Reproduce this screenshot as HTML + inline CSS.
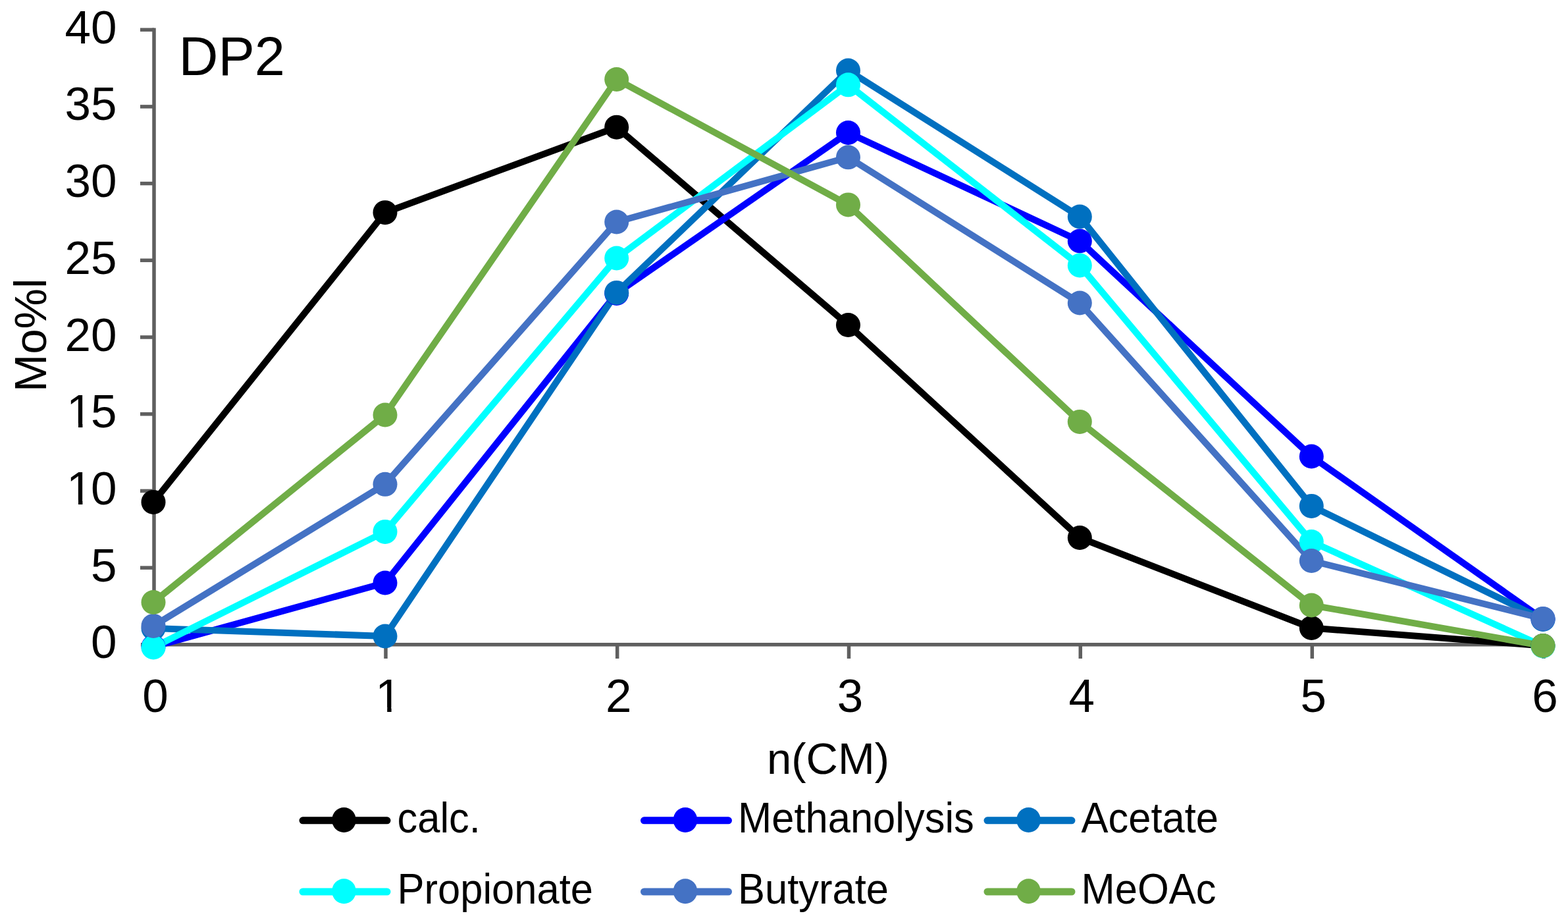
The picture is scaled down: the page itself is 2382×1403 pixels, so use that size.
<!DOCTYPE html><html><head><meta charset="utf-8"><title>DP2</title><style>html,body{margin:0;padding:0;background:#fff;overflow:hidden}svg{display:block}text{font-family:"Liberation Sans",Arial,sans-serif;fill:#000}</style></head><body>
<svg width="2382" height="1403" viewBox="0 0 2382 1403">
<rect width="2382" height="1403" fill="#fff"/>
<g stroke="#5f5f5f" stroke-width="5.5" fill="none">
<line x1="234" y1="42.4" x2="234" y2="978.8"/>
<line x1="231.25" y1="978.8" x2="2344" y2="978.8"/>
<line x1="214" y1="978.8" x2="234" y2="978.8"/>
<line x1="213" y1="862.1" x2="234" y2="862.1"/>
<line x1="213" y1="745.4" x2="234" y2="745.4"/>
<line x1="213" y1="628.7" x2="234" y2="628.7"/>
<line x1="213" y1="512.0" x2="234" y2="512.0"/>
<line x1="213" y1="395.3" x2="234" y2="395.3"/>
<line x1="213" y1="278.6" x2="234" y2="278.6"/>
<line x1="213" y1="161.9" x2="234" y2="161.9"/>
<line x1="213" y1="45.2" x2="234" y2="45.2"/>
<line x1="234.0" y1="978.8" x2="234.0" y2="1000"/>
<line x1="586.0" y1="978.8" x2="586.0" y2="1000"/>
<line x1="937.7" y1="978.8" x2="937.7" y2="1000"/>
<line x1="1289.5" y1="978.8" x2="1289.5" y2="1000"/>
<line x1="1641.3" y1="978.8" x2="1641.3" y2="1000"/>
<line x1="1993.3" y1="978.8" x2="1993.3" y2="1000"/>
<line x1="2345.0" y1="978.8" x2="2345.0" y2="1000"/>
</g>
<defs><clipPath id="c10"><rect x="96.05" y="694.90" width="71.00" height="64.39"/><rect x="119.01" y="694.90" width="6.39" height="74.00"/><rect x="138.02" y="694.90" width="44.48" height="91.00"/></clipPath><clipPath id="c15"><rect x="96.05" y="578.20" width="71.00" height="64.39"/><rect x="119.01" y="578.20" width="6.39" height="74.00"/><rect x="138.02" y="578.20" width="44.48" height="91.00"/></clipPath><clipPath id="cx1"><rect x="565.26" y="1009.50" width="71.00" height="64.39"/><rect x="588.22" y="1009.50" width="6.39" height="74.00"/></clipPath></defs>
<g font-size="71" text-anchor="end"><text x="177.5" y="999.3">0</text><text x="177.5" y="882.6">5</text><text x="98.548" y="765.9" text-anchor="start" clip-path="url(#c10)"><tspan dx="2.5">1</tspan><tspan dx="-2.5">0</tspan></text><text x="98.548" y="649.2" text-anchor="start" clip-path="url(#c15)"><tspan dx="2.5">1</tspan><tspan dx="-2.5">5</tspan></text><text x="177.5" y="532.5">20</text><text x="177.5" y="415.8">25</text><text x="177.5" y="299.1">30</text><text x="177.5" y="182.4">35</text><text x="177.5" y="65.7">40</text></g>
<g font-size="71" text-anchor="middle"><text x="236.0" y="1080.5">0</text><text x="590.0" y="1080.5" clip-path="url(#cx1)">1</text><text x="939.7" y="1080.5">2</text><text x="1291.5" y="1080.5">3</text><text x="1643.3" y="1080.5">4</text><text x="1995.3" y="1080.5">5</text><text x="2347.0" y="1080.5">6</text></g>
<text x="271.5" y="114.3" font-size="83">DP2</text>
<text x="1258" y="1175" font-size="67" text-anchor="middle">n(CM)</text>
<text transform="translate(69.5,509) rotate(-90)" font-size="69" text-anchor="middle">Mo%l</text>
<g fill="none" stroke-width="10" stroke-linejoin="round" stroke-linecap="round">
<polyline stroke="#000000" points="233.0,762.4 585.0,322.7 936.7,193.2 1288.5,493.5 1640.3,816.5 1992.3,953.5 2344.0,980.5"/>
<polyline stroke="#0000FF" points="233.0,982.0 585.0,885.0 936.7,445.5 1288.5,201.5 1640.3,366.0 1992.3,693.0 2344.0,940.0"/>
<polyline stroke="#0070C0" points="233.0,954.0 585.0,966.0 936.7,444.4 1288.5,107.0 1640.3,329.0 1992.3,768.4 2344.0,940.5"/>
<polyline stroke="#00FFFF" points="233.0,983.0 585.0,807.4 936.7,392.0 1288.5,128.8 1640.3,403.0 1992.3,822.5 2344.0,981.0"/>
<polyline stroke="#4472C4" points="233.0,950.4 585.0,735.3 936.7,337.0 1288.5,238.8 1640.3,460.0 1992.3,851.5 2344.0,939.4"/>
<polyline stroke="#70AD47" points="233.0,914.5 585.0,630.0 936.7,120.5 1288.5,310.9 1640.3,640.4 1992.3,919.0 2344.0,980.5"/>
</g>
<g fill="#000000"><circle cx="233.0" cy="762.4" r="18.5"/><circle cx="585.0" cy="322.7" r="18.5"/><circle cx="936.7" cy="193.2" r="18.5"/><circle cx="1288.5" cy="493.5" r="18.5"/><circle cx="1640.3" cy="816.5" r="18.5"/><circle cx="1992.3" cy="953.5" r="18.5"/><circle cx="2344.0" cy="980.5" r="18.5"/></g>
<g fill="#0000FF"><circle cx="233.0" cy="982.0" r="18.5"/><circle cx="585.0" cy="885.0" r="18.5"/><circle cx="936.7" cy="445.5" r="18.5"/><circle cx="1288.5" cy="201.5" r="18.5"/><circle cx="1640.3" cy="366.0" r="18.5"/><circle cx="1992.3" cy="693.0" r="18.5"/><circle cx="2344.0" cy="940.0" r="18.5"/></g>
<g fill="#0070C0"><circle cx="233.0" cy="954.0" r="18.5"/><circle cx="585.0" cy="966.0" r="18.5"/><circle cx="936.7" cy="444.4" r="18.5"/><circle cx="1288.5" cy="107.0" r="18.5"/><circle cx="1640.3" cy="329.0" r="18.5"/><circle cx="1992.3" cy="768.4" r="18.5"/><circle cx="2344.0" cy="940.5" r="18.5"/></g>
<g fill="#00FFFF"><circle cx="233.0" cy="983.0" r="18.5"/><circle cx="585.0" cy="807.4" r="18.5"/><circle cx="936.7" cy="392.0" r="18.5"/><circle cx="1288.5" cy="128.8" r="18.5"/><circle cx="1640.3" cy="403.0" r="18.5"/><circle cx="1992.3" cy="822.5" r="18.5"/><circle cx="2344.0" cy="981.0" r="18.5"/></g>
<g fill="#4472C4"><circle cx="233.0" cy="950.4" r="18.5"/><circle cx="585.0" cy="735.3" r="18.5"/><circle cx="936.7" cy="337.0" r="18.5"/><circle cx="1288.5" cy="238.8" r="18.5"/><circle cx="1640.3" cy="460.0" r="18.5"/><circle cx="1992.3" cy="851.5" r="18.5"/><circle cx="2344.0" cy="939.4" r="18.5"/></g>
<g fill="#70AD47"><circle cx="233.0" cy="914.5" r="18.5"/><circle cx="585.0" cy="630.0" r="18.5"/><circle cx="936.7" cy="120.5" r="18.5"/><circle cx="1288.5" cy="310.9" r="18.5"/><circle cx="1640.3" cy="640.4" r="18.5"/><circle cx="1992.3" cy="919.0" r="18.5"/><circle cx="2344.0" cy="980.5" r="18.5"/></g>
<line x1="460.0" y1="1245.8" x2="588.0" y2="1245.8" stroke="#000000" stroke-width="11" stroke-linecap="round"/>
<ellipse cx="522.5" cy="1245.0" rx="18.3" ry="19" fill="#000000"/>
<text transform="translate(603.5,1263.6) scale(1,1.04)" font-size="61.5">calc.</text>
<line x1="978.5" y1="1245.8" x2="1106.5" y2="1245.8" stroke="#0000FF" stroke-width="11" stroke-linecap="round"/>
<ellipse cx="1041" cy="1245.0" rx="18.3" ry="19" fill="#0000FF"/>
<text transform="translate(1121,1263.6) scale(1,1.04)" font-size="61.5">Methanolysis</text>
<line x1="1500.0" y1="1245.8" x2="1628.0" y2="1245.8" stroke="#0070C0" stroke-width="11" stroke-linecap="round"/>
<ellipse cx="1562.5" cy="1245.0" rx="18.3" ry="19" fill="#0070C0"/>
<text transform="translate(1642.5,1263.6) scale(1,1.04)" font-size="61.5">Acetate</text>
<line x1="460.0" y1="1354" x2="588.0" y2="1354" stroke="#00FFFF" stroke-width="11" stroke-linecap="round"/>
<ellipse cx="522.5" cy="1353.2" rx="18.3" ry="19" fill="#00FFFF"/>
<text transform="translate(603.5,1371.6) scale(1,1.04)" font-size="61.5">Propionate</text>
<line x1="978.5" y1="1354" x2="1106.5" y2="1354" stroke="#4472C4" stroke-width="11" stroke-linecap="round"/>
<ellipse cx="1041" cy="1353.2" rx="18.3" ry="19" fill="#4472C4"/>
<text transform="translate(1121,1371.6) scale(1,1.04)" font-size="61.5">Butyrate</text>
<line x1="1500.0" y1="1354" x2="1628.0" y2="1354" stroke="#70AD47" stroke-width="11" stroke-linecap="round"/>
<ellipse cx="1562.5" cy="1353.2" rx="18.3" ry="19" fill="#70AD47"/>
<text transform="translate(1642.5,1371.6) scale(1,1.04)" font-size="61.5">MeOAc</text>
</svg></body></html>
